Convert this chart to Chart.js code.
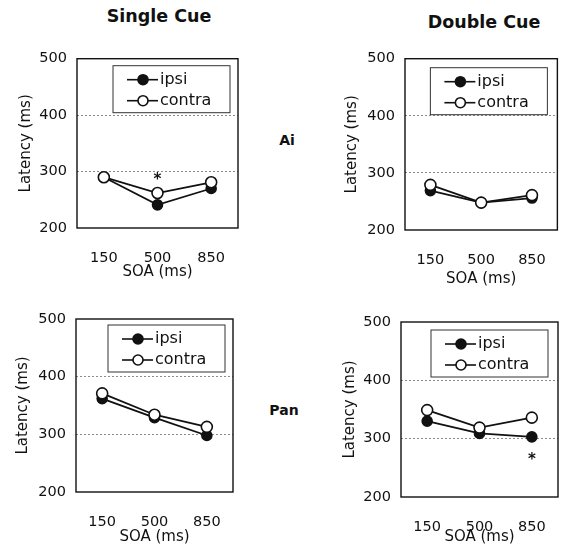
<!DOCTYPE html>
<html>
<head>
<meta charset="utf-8">
<script src="https://cdn.jsdelivr.net/npm/chart.js@4.4.1/dist/chart.umd.min.js"></script>
<style>
  body { margin: 0; background: #fff; width: 569px; height: 554px; position: relative; overflow: hidden; font-family: "DejaVu Sans", sans-serif; }
  canvas { position: absolute; }
  .lbl { position: absolute; font-weight: bold; color: #111; transform: translate(-50%, -50%); white-space: nowrap; }
</style>
</head>
<body>
<div class="lbl" style="left:159px; top:16px; font-size:17.5px;">Single Cue</div>
<div class="lbl" style="left:484px; top:22px; font-size:17.5px;">Double Cue</div>
<div class="lbl" style="left:287px; top:140px; font-size:14px;">Ai</div>
<div class="lbl" style="left:284px; top:410px; font-size:14px;">Pan</div>

<canvas id="aiSingle" width="250" height="245" style="left:0px; top:40px;"></canvas>
<canvas id="aiDouble" width="239" height="250" style="left:330px; top:40px;"></canvas>
<canvas id="panSingle" width="245" height="254" style="left:0px; top:300px;"></canvas>
<canvas id="panDouble" width="243" height="254" style="left:326px; top:300px;"></canvas>

<script>
console.log("Script loaded");

// data
const soaLabels = ['150', '500', '850'];
const latencyTicks = [200, 300, 400, 500];

const aiSingleIpsi = [290, 241, 270];
const aiSingleContra = [290, 262, 281];
const aiDoubleIpsi = [269, 248, 256];
const aiDoubleContra = [279, 248, 261];
const panSingleIpsi = [362, 329, 298];
const panSingleContra = [371, 334, 313];
const panDoubleIpsi = [330, 309, 303];
const panDoubleContra = [349, 319, 336];

// significance markers (*)
const aiSingleStar = [null, 290, null];
const noStar = [null, null, null];
const panDoubleStar = [null, null, 268];

const FONT = '"DejaVu Sans", sans-serif';
const INK = '#111';

// black box round the plot area
const framePlugin = {
    id: 'frame',
    afterDraw(chart) {
        const a = chart.chartArea;
        const ctx = chart.ctx;
        ctx.save();
        ctx.strokeStyle = INK;
        ctx.lineWidth = 1.4;
        ctx.strokeRect(a.left, a.top, a.right - a.left, a.bottom - a.top);
        ctx.restore();
    }
};

// legend box drawn inside the plot, top right
const boxLegend = {
    id: 'boxLegend',
    afterDraw(chart, args, opts) {
        const a = chart.chartArea;
        const ctx = chart.ctx;
        const w = 117, h = 47;
        const left = a.right - opts.gapRight - w;
        const top = a.top + opts.gapTop;
        ctx.save();
        ctx.fillStyle = '#fff';
        ctx.fillRect(left, top, w, h);
        ctx.strokeStyle = '#333';
        ctx.lineWidth = 1;
        ctx.strokeRect(left, top, w, h);
        const rows = [
            { ds: chart.data.datasets[0], y: top + 14 },
            { ds: chart.data.datasets[1], y: top + 35 }
        ];
        rows.forEach(r => {
            ctx.beginPath();
            ctx.moveTo(left + 14, r.y);
            ctx.lineTo(left + 45, r.y);
            ctx.strokeStyle = INK;
            ctx.lineWidth = 1.6;
            ctx.stroke();
            ctx.beginPath();
            ctx.arc(left + 30, r.y, 5, 0, Math.PI * 2);
            ctx.fillStyle = r.ds.pointBackgroundColor;
            ctx.fill();
            ctx.stroke();
            ctx.fillStyle = INK;
            ctx.font = '16px ' + FONT;
            ctx.textBaseline = 'middle';
            ctx.textAlign = 'left';
            ctx.fillText(r.ds.label, left + 47, r.y);
        });
        ctx.restore();
    }
};

// asterisks placed with the chart's own scales
const starPlugin = {
    id: 'stars',
    afterDatasetsDraw(chart, args, opts) {
        const ctx = chart.ctx;
        ctx.save();
        ctx.fillStyle = INK;
        ctx.font = 'bold 15px ' + FONT;
        ctx.textAlign = 'center';
        ctx.textBaseline = 'middle';
        opts.values.forEach((v, i) => {
            if (v === null) return;
            const x = chart.scales.x.getPixelForValue(i);
            const y = chart.scales.y.getPixelForValue(v);
            ctx.fillText('*', x, y + 3);
        });
        ctx.restore();
    }
};

function makePanel(id, ipsi, contra, stars, pad, yWidth, xHeight, yTitleLeft, xTitleBottom, legendGap) {
    return new Chart(document.getElementById(id), {
        type: 'line',
        data: {
            labels: soaLabels,
            datasets: [
                {
                    label: 'ipsi',
                    data: ipsi,
                    borderColor: INK,
                    borderWidth: 1.8,
                    pointRadius: 5,
                    pointBorderWidth: 1.6,
                    pointBackgroundColor: INK,
                    pointBorderColor: INK,
                    tension: 0,
                    order: 1
                },
                {
                    label: 'contra',
                    data: contra,
                    borderColor: INK,
                    borderWidth: 1.8,
                    pointRadius: 5.5,
                    pointBorderWidth: 1.6,
                    pointBackgroundColor: '#fff',
                    pointBorderColor: INK,
                    tension: 0,
                    order: 0
                }
            ]
        },
        options: {
            responsive: false,
            devicePixelRatio: 1,
            animation: false,
            layout: { padding: pad },
            scales: {
                x: {
                    type: 'category',
                    offset: true,
                    grid: { display: false, drawTicks: false },
                    border: { display: false },
                    ticks: { color: INK, font: { family: FONT, size: 14.5 }, padding: 22 },
                    title: {
                        display: true, text: 'SOA (ms)', color: INK,
                        font: { family: FONT, size: 15 },
                        padding: { top: 0, bottom: xTitleBottom }
                    },
                    afterFit: s => { s.height = xHeight; }
                },
                y: {
                    min: 200,
                    max: 500,
                    afterBuildTicks: s => { s.ticks = latencyTicks.map(v => ({ value: v })); },
                    grid: {
                        drawTicks: false,
                        lineWidth: 1,
                        color: c => (c.tick && (c.tick.value === 300 || c.tick.value === 400)) ? '#8a8a8a' : 'rgba(0,0,0,0)'
                    },
                    border: { display: false, dash: [2, 2] },
                    ticks: { color: INK, font: { family: FONT, size: 14.5 }, padding: 10 },
                    title: {
                        display: true, text: 'Latency (ms)', color: INK,
                        font: { family: FONT, size: 15 },
                        padding: { top: yTitleLeft, bottom: 0 }
                    },
                    afterFit: s => { s.width = yWidth; }
                }
            },
            plugins: {
                legend: { display: false },
                tooltip: { enabled: false },
                stars: { values: stars },
                boxLegend: legendGap
            }
        },
        plugins: [framePlugin, boxLegend, starPlugin]
    });
}

makePanel('aiSingle', aiSingleIpsi, aiSingleContra, aiSingleStar,
    { top: 12, right: 12, left: 10, bottom: 0 }, 67, 57, 7, 4, { gapRight: 8, gapTop: 7 });
makePanel('aiDouble', aiDoubleIpsi, aiDoubleContra, noStar,
    { top: 16, right: 4, left: 8, bottom: 0 }, 67, 60, 5, 2, { gapRight: 10, gapTop: 9 });
makePanel('panSingle', panSingleIpsi, panSingleContra, noStar,
    { top: 19, right: 12, left: 9, bottom: 0 }, 67, 62, 5, 8, { gapRight: 8, gapTop: 6 });
makePanel('panDouble', panDoubleIpsi, panDoubleContra, panDoubleStar,
    { top: 22, right: 8, left: 8, bottom: 0 }, 67, 57, 7, 8, { gapRight: 10, gapTop: 8 });
</script>
</body>
</html>
